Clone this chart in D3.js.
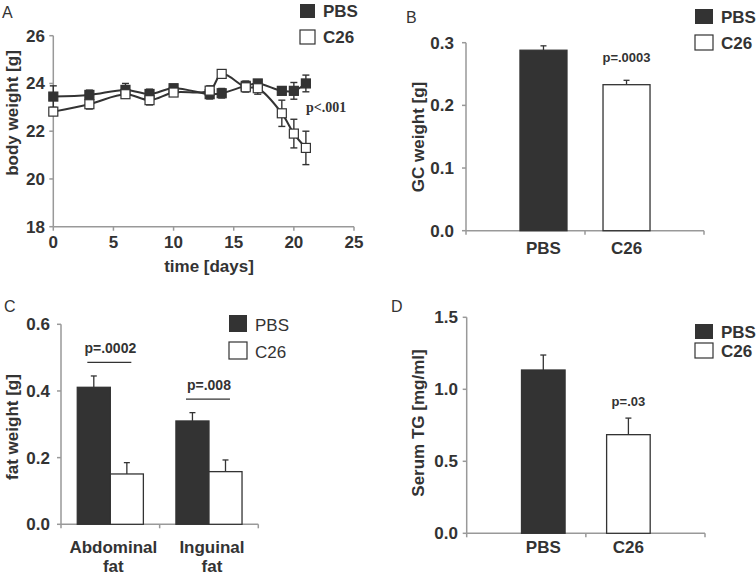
<!DOCTYPE html>
<html><head><meta charset="utf-8">
<script src="https://cdn.jsdelivr.net/npm/d3@7"></script>
<style>body{margin:0;background:#fff}svg{display:block}text{font-family:"Liberation Sans",Arial,sans-serif;fill:#333}</style>
</head><body><svg id="c" width="756" height="580"></svg>
<script>
// ---- Data ----
const seriesNames = ["PBS", "C26"];
// Panel A: body weight over time
const daysA = [0, 3, 6, 8, 10, 13, 14, 16, 17, 19, 20, 21];
const pbsWeight = [23.45, 23.52, 23.73, 23.56, 23.8, 23.55, 23.59, 23.9, 24.0, 23.69, 23.69, 24.0];
const pbsWeightErr = [0.45, 0.2, 0.27, 0.2, 0.15, 0.2, 0.2, 0.2, 0.1, 0.15, 0.35, 0.35];
const c26Weight = [22.82, 23.13, 23.55, 23.3, 23.62, 23.7, 24.4, 23.84, 23.8, 22.75, 21.9, 21.3];
const c26WeightErr = [0.15, 0.2, 0.15, 0.2, 0.15, 0.2, 0.15, 0.2, 0.25, 0.55, 0.6, 0.7];
const ticksA_x = [0, 5, 10, 15, 20, 25];
const ticksA_y = [18, 20, 22, 24, 26];
// Panel B: GC weight
const gcGroups = ["PBS", "C26"];
const gcWeight = [0.288, 0.233];
const gcErr = [0.007, 0.007];
const ticksB_y = [0.0, 0.1, 0.2, 0.3];
// Panel C: fat weight
const fatCategories = [["Abdominal", "fat"], ["Inguinal", "fat"]];
const fatPBS = [0.411, 0.31];
const fatPBSErr = [0.034, 0.025];
const fatC26 = [0.151, 0.158];
const fatC26Err = [0.034, 0.035];
const fatPvals = ["p=.0002", "p=.008"];
const ticksC_y = [0.0, 0.2, 0.4, 0.6];
// Panel D: serum TG
const tgGroups = ["PBS", "C26"];
const tgValues = [1.134, 0.685];
const tgErr = [0.104, 0.115];
const ticksD_y = [0.0, 0.5, 1.0, 1.5];

const svg = d3.select("#c");
svg.append("rect").attr("width", 756).attr("height", 580).attr("fill", "#fff");
const AX = "#999", DARK = "#333", FS = 17;

function yAxis(g, y, ticks, x0, fmt, labelRight) {
  g.append("line").attr("x1", x0).attr("x2", x0).attr("y1", y(ticks[0])).attr("y2", y(ticks[ticks.length - 1]))
    .attr("stroke", AX).attr("stroke-width", 1.5);
  ticks.forEach(t => {
    g.append("line").attr("x1", x0 - 4).attr("x2", x0).attr("y1", y(t)).attr("y2", y(t)).attr("stroke", AX).attr("stroke-width", 1.5);
    g.append("text").attr("x", labelRight).attr("y", y(t) + 6).attr("text-anchor", "end")
      .attr("font-size", FS).attr("font-weight", "bold").text(fmt(t));
  });
}
function yTitle(g, text, cx, cy) {
  g.append("text").attr("transform", `translate(${cx},${cy}) rotate(-90)`).attr("text-anchor", "middle")
    .attr("dy", "0.35em").attr("font-size", FS).attr("font-weight", "bold").text(text);
}
function legend(g, x, y1, y2, bold, size, sq) {
  seriesNames.forEach((n, i) => {
    const yy = i === 0 ? y1 : y2;
    g.append("rect").attr("x", x).attr("y", yy - sq[1] + 1).attr("width", sq[0]).attr("height", sq[1])
      .attr("fill", i === 0 ? DARK : "#fff").attr("stroke", DARK).attr("stroke-width", i === 0 ? 0 : 1.2);
    g.append("text").attr("x", x + sq[0] + 8).attr("y", yy).attr("font-size", size)
      .attr("font-weight", bold ? "bold" : "normal").text(n);
  });
}
function panelLetter(t, x, y) {
  svg.append("text").attr("x", x).attr("y", y).attr("font-size", 16).text(t);
}
function errUp(g, cx, yTop, yErr) {
  g.append("line").attr("x1", cx).attr("x2", cx).attr("y1", yTop).attr("y2", yErr).attr("stroke", DARK).attr("stroke-width", 1.3);
  g.append("line").attr("x1", cx - 3).attr("x2", cx + 3).attr("y1", yErr).attr("y2", yErr).attr("stroke", DARK).attr("stroke-width", 1.3);
}

// ---- Panel A ----
(function () {
  const g = svg.append("g");
  const x = d3.scaleLinear().domain([0, 25]).range([53.3, 354]);
  const y = d3.scaleLinear().domain([18, 26]).range([226.7, 35.7]);
  yAxis(g, y, ticksA_y, x(0), d => d3.format("d")(d), 45);
  g.append("line").attr("x1", x(0)).attr("x2", x(25)).attr("y1", y(18)).attr("y2", y(18)).attr("stroke", AX).attr("stroke-width", 1.5);
  ticksA_x.forEach(t => {
    g.append("line").attr("x1", x(t)).attr("x2", x(t)).attr("y1", y(18)).attr("y2", y(18) + 4).attr("stroke", AX).attr("stroke-width", 1.5);
    g.append("text").attr("x", x(t)).attr("y", 248).attr("text-anchor", "middle").attr("font-size", FS).attr("font-weight", "bold").text(t);
  });
  g.append("text").attr("x", 209).attr("y", 272).attr("text-anchor", "middle").attr("font-size", FS).attr("font-weight", "bold").text("time [days]");
  yTitle(g, "body weight [g]", 12, 113);
  const line = d3.line().x(d => x(d[0])).y(d => y(d[1])).curve(d3.curveCatmullRom.alpha(0.5));
  const series = [
    { v: pbsWeight, e: pbsWeightErr, fill: DARK },
    { v: c26Weight, e: c26WeightErr, fill: "#fff" }
  ];
  series.forEach(s => {
    g.append("path").attr("d", line(daysA.map((d, i) => [d, s.v[i]]))).attr("fill", "none").attr("stroke", DARK).attr("stroke-width", 2);
  });
  series.forEach(s => {
    daysA.forEach((d, i) => {
      const cx = x(d);
      g.append("line").attr("x1", cx).attr("x2", cx).attr("y1", y(s.v[i] - s.e[i])).attr("y2", y(s.v[i] + s.e[i])).attr("stroke", DARK).attr("stroke-width", 1.4);
      [s.v[i] - s.e[i], s.v[i] + s.e[i]].forEach(vv =>
        g.append("line").attr("x1", cx - 3.5).attr("x2", cx + 3.5).attr("y1", y(vv)).attr("y2", y(vv)).attr("stroke", DARK).attr("stroke-width", 1.4));
    });
  });
  series.forEach(s => {
    daysA.forEach((d, i) => {
      g.append("rect").attr("x", x(d) - 4.5).attr("y", y(s.v[i]) - 4.5).attr("width", 9).attr("height", 9)
        .attr("fill", s.fill).attr("stroke", DARK).attr("stroke-width", 1.2);
    });
  });
  g.append("text").attr("x", 306).attr("y", 112)
    .style("font-family", "'Liberation Serif','Times New Roman',serif")
    .attr("font-size", 14).attr("font-weight", "bold").text("p<.001");
  legend(g, 300, 17, 43, true, FS, [15, 14]);
  panelLetter("A", 2, 18);
})();

// ---- Panel B ----
(function () {
  const g = svg.append("g");
  const x0 = 466, x1 = 704;
  const x = d3.scaleBand().domain(gcGroups).range([x0, x1]).paddingInner(0.434).paddingOuter(0.65);
  const y = d3.scaleLinear().domain([0, 0.3]).range([230.7, 42.7]);
  yAxis(g, y, ticksB_y, x0, d3.format(".1f"), 454);
  g.append("line").attr("x1", x0).attr("x2", x1).attr("y1", y(0)).attr("y2", y(0)).attr("stroke", AX).attr("stroke-width", 1.5);
  [x0, (x0 + x1) / 2, x1].forEach(t => g.append("line").attr("x1", t).attr("x2", t).attr("y1", y(0)).attr("y2", y(0) + 4).attr("stroke", AX).attr("stroke-width", 1.5));
  gcGroups.forEach((k, i) => {
    errUp(g, x(k) + x.bandwidth() / 2, y(gcWeight[i]), y(gcWeight[i] + gcErr[i]));
    g.append("rect").attr("x", x(k)).attr("y", y(gcWeight[i])).attr("width", x.bandwidth()).attr("height", y(0) - y(gcWeight[i]))
      .attr("fill", i === 0 ? DARK : "#fff").attr("stroke", DARK).attr("stroke-width", 1.3);
    g.append("text").attr("x", x(k) + x.bandwidth() / 2).attr("y", 254).attr("text-anchor", "middle").attr("font-size", FS).attr("font-weight", "bold").text(k);
  });
  g.append("text").attr("x", x("C26") + x.bandwidth() / 2).attr("y", 62).attr("text-anchor", "middle").attr("font-size", 13).attr("font-weight", "bold").text("p=.0003");
  yTitle(g, "GC weight [g]", 418, 137);
  legend(g, 695, 23, 49, true, FS, [18, 15]);
  panelLetter("B", 406, 23);
})();

// ---- Panel C ----
(function () {
  const g = svg.append("g");
  const x0 = 61, x1 = 258.3;
  const x = d3.scaleBand().domain(fatCategories.map(d => d[0])).range([x0, x1]).paddingInner(0.33).paddingOuter(0.165);
  const xs = d3.scaleBand().domain(seriesNames).range([0, x.bandwidth()]);
  const y = d3.scaleLinear().domain([0, 0.6]).range([524.3, 324.3]);
  yAxis(g, y, ticksC_y, x0, d3.format(".1f"), 50);
  g.append("line").attr("x1", x0).attr("x2", x1).attr("y1", y(0)).attr("y2", y(0)).attr("stroke", AX).attr("stroke-width", 1.5);
  [x0, (x0 + x1) / 2, x1].forEach(t => g.append("line").attr("x1", t).attr("x2", t).attr("y1", y(0)).attr("y2", y(0) + 4).attr("stroke", AX).attr("stroke-width", 1.5));
  fatCategories.forEach((c, i) => {
    const vals = [[fatPBS[i], fatPBSErr[i]], [fatC26[i], fatC26Err[i]]];
    seriesNames.forEach((s, j) => {
      const bx = x(c[0]) + xs(s);
      errUp(g, bx + xs.bandwidth() / 2, y(vals[j][0]), y(vals[j][0] + vals[j][1]));
      g.append("rect").attr("x", bx).attr("y", y(vals[j][0])).attr("width", xs.bandwidth()).attr("height", y(0) - y(vals[j][0]))
        .attr("fill", j === 0 ? DARK : "#fff").attr("stroke", DARK).attr("stroke-width", 1.3);
    });
    const cx = x(c[0]) + x.bandwidth() / 2;
    g.append("text").attr("x", cx + 3).attr("y", 553).attr("text-anchor", "middle").attr("font-size", FS).attr("font-weight", "bold").text(c[0]);
    g.append("text").attr("x", cx + 3).attr("y", 572).attr("text-anchor", "middle").attr("font-size", FS).attr("font-weight", "bold").text(c[1]);
    const topv = Math.max(fatPBS[i] + fatPBSErr[i], fatC26[i] + fatC26Err[i]);
    const ly = y(topv) - 13.5;
    g.append("line").attr("x1", cx - 23).attr("x2", cx + 21).attr("y1", ly).attr("y2", ly).attr("stroke", DARK).attr("stroke-width", 1.3);
    g.append("text").attr("x", cx).attr("y", ly - 9).attr("text-anchor", "middle").attr("font-size", 14).attr("font-weight", "bold").text(fatPvals[i]);
  });
  yTitle(g, "fat weight [g]", 12, 427);
  legend(g, 229, 331, 358, false, 17, [18, 17]);
  panelLetter("C", 4, 312);
})();

// ---- Panel D ----
(function () {
  const g = svg.append("g");
  const x0 = 466.7, x1 = 705;
  const x = d3.scaleBand().domain(tgGroups).range([x0, x1]).paddingInner(0.488).paddingOuter(0.644);
  const y = d3.scaleLinear().domain([0, 1.5]).range([533.3, 317.3]);
  yAxis(g, y, ticksD_y, x0, d3.format(".1f"), 458);
  g.append("line").attr("x1", x0).attr("x2", x1).attr("y1", y(0)).attr("y2", y(0)).attr("stroke", AX).attr("stroke-width", 1.5);
  [x0, (x0 + x1) / 2, x1].forEach(t => g.append("line").attr("x1", t).attr("x2", t).attr("y1", y(0)).attr("y2", y(0) + 4).attr("stroke", AX).attr("stroke-width", 1.5));
  tgGroups.forEach((k, i) => {
    errUp(g, x(k) + x.bandwidth() / 2, y(tgValues[i]), y(tgValues[i] + tgErr[i]));
    g.append("rect").attr("x", x(k)).attr("y", y(tgValues[i])).attr("width", x.bandwidth()).attr("height", y(0) - y(tgValues[i]))
      .attr("fill", i === 0 ? DARK : "#fff").attr("stroke", DARK).attr("stroke-width", 1.3);
    g.append("text").attr("x", x(k) + x.bandwidth() / 2).attr("y", 553).attr("text-anchor", "middle").attr("font-size", FS).attr("font-weight", "bold").text(k);
  });
  g.append("text").attr("x", x("C26") + x.bandwidth() / 2).attr("y", 406).attr("text-anchor", "middle").attr("font-size", 13).attr("font-weight", "bold").text("p=.03");
  yTitle(g, "Serum TG [mg/ml]", 418, 423);
  legend(g, 695, 338, 357, true, FS, [18, 15]);
  panelLetter("D", 391, 312);
})();
</script></body></html>
